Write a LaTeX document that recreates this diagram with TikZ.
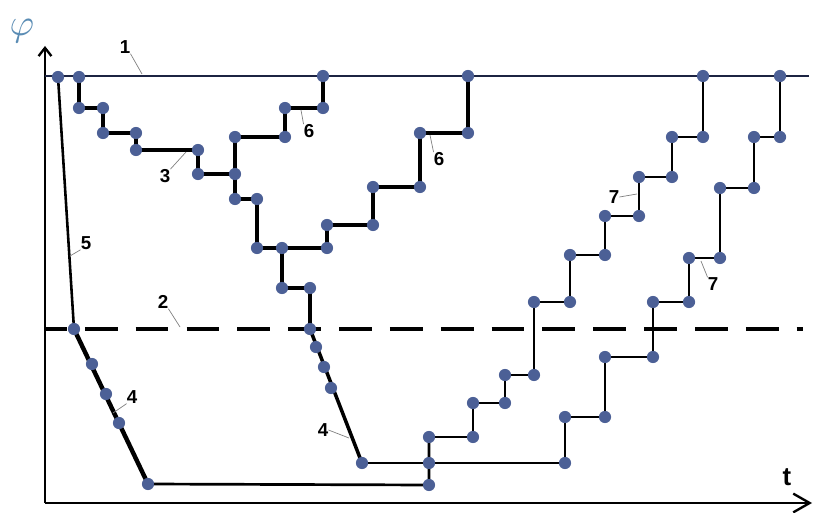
\documentclass[tikz,border=0pt]{standalone}
\usepackage{fontspec}
\setmainfont{Liberation Sans}
\usetikzlibrary{arrows.meta}

\definecolor{dotblue}{RGB}{76,96,150}
\definecolor{navy}{RGB}{28,36,66}
\definecolor{phiblue}{RGB}{90,140,180}

\tikzset{
  stairs/.style={line width=3.8pt},
  thinstairs/.style={line width=2.3pt},
  lbl/.style={font=\fontsize{16}{16}\selectfont\bfseries, inner sep=0pt},
  leader/.style={gray, line width=0.6pt},
}

\begin{document}
\begin{tikzpicture}[x=0.03cm,y=-0.03cm]
\useasboundingbox (0,0) rectangle (817,513);

% points of the curves
\foreach \n/\x/\y in {
  o/45/503, ytop/45/46, xend/812/503, h0/45/76, h1/809/76, d0/45/329, d1/803/329,
  t0/58/77, t1/79/77, t2/323/76, t3/468/76, t4/703/76, t5/780/76,
  c1/79/108, c2/103/108, c3/103/133, c4/136/133, c5/136/150, c6/198/150, c7/198/174,
  c8/235/174, c9/235/199, c10/257/199, c11/257/248, c12/282/248, c13/282/288,
  c14/310/288, c15/310/329,
  f1/323/108, f2/285/108, f3/285/137, f4/235/137,
  g1/468/133, g2/420/133, g3/420/187, g4/373/187, g5/373/225, g6/327/225, g7/327/248,
  a0/74/329, a1/92/364, a2/106/394, a3/119/423, a4/148/484,
  b1/316/347, b2/324/367, b3/331/388, b4/362/463,
  m0/429/485, m1/429/463, m2/429/437, m3/565/463,
  p1/473/437, p2/473/403, p3/505/403, p4/505/375, p5/534/375, p6/534/302,
  p7/570/302, p8/570/255, p9/605/255, p10/605/216, p11/639/216, p12/639/177,
  p13/672/177, p14/672/137, p15/703/137,
  q1/565/417, q2/605/417, q3/605/357, q4/653/357, q5/653/302, q6/689/302,
  q7/689/258, q8/720/258, q9/720/188, q10/754/188, q11/754/137, q12/780/137}
  \coordinate (\n) at (\x,\y);

% axes
\draw[line width=2pt, -{Straight Barb[length=7pt,width=11pt]}] (o) -- (ytop);
\draw[line width=2pt, -{Straight Barb[length=14pt,width=16pt]}] (o) -- (xend);
\node[text=phiblue] (phi) at (22,31) {\scalebox{3.2}{$\varphi$}};
\node[font=\fontsize{22}{22}\selectfont\bfseries] (tlab) at (787,477) {t};

% levels 1 and 2
\draw[navy, line width=2.3pt] (h0) -- (h1);
\draw[line width=3.8pt, dash pattern=on 28pt off 15.4pt, dash phase=9.4pt] (d0) -- (d1);

% fall lines
\draw[line width=2.2pt] (t0) -- (a0);
\draw[stairs] (a0) -- (a4);
\draw[thinstairs] (a4) -- (m0) -- (m2);
\draw[line width=3pt] (c15) -- (b4);
\draw[thinstairs] (b4) -- (m3);

% staircases
\draw[stairs] (t1) -- (c1) -- (c2) -- (c3) -- (c4) -- (c5) -- (c6) -- (c7) -- (c8)
  -- (c9) -- (c10) -- (c11) -- (c12) -- (c13) -- (c14) -- (c15);
\draw[stairs] (t2) -- (f1) -- (f2) -- (f3) -- (f4) -- (c8);
\draw[stairs] (t3) -- (g1) -- (g2) -- (g3) -- (g4) -- (g5) -- (g6) -- (g7) -- (c12);
\draw[thinstairs] (m2) -- (p1) -- (p2) -- (p3) -- (p4) -- (p5) -- (p6) -- (p7) -- (p8)
  -- (p9) -- (p10) -- (p11) -- (p12) -- (p13) -- (p14) -- (p15) -- (t4);
\draw[thinstairs] (m3) -- (q1) -- (q2) -- (q3) -- (q4) -- (q5) -- (q6) -- (q7) -- (q8)
  -- (q9) -- (q10) -- (q11) -- (q12) -- (t5);

% dots
\foreach \n in {t0,t1,t2,t3,t4,t5,c1,c2,c3,c4,c5,c6,c7,c8,c9,c10,c11,c12,c13,c14,c15,
  f1,f2,f3,f4,g1,g2,g3,g4,g5,g6,g7,a0,a1,a2,a3,a4,b1,b2,b3,b4,m0,m1,m2,m3,
  p1,p2,p3,p4,p5,p6,p7,p8,p9,p10,p11,p12,p13,p14,p15,
  q1,q2,q3,q4,q5,q6,q7,q8,q9,q10,q11,q12}
  \fill[dotblue] (\n) circle (5.2pt);

% labels
\node[lbl] (n1) at (125,47) {1};
\node[lbl] (n2) at (163,302) {2};
\node[lbl] (n3) at (165,176) {3};
\node[lbl] (n4a) at (132,397) {4};
\node[lbl] (n4b) at (323,430) {4};
\node[lbl] (n5) at (86,243) {5};
\node[lbl] (n6a) at (309,131) {6};
\node[lbl] (n6b) at (439,159) {6};
\node[lbl] (n7a) at (614,197) {7};
\node[lbl] (n7b) at (713,284) {7};

\coordinate (k1) at (142,74);
\coordinate (k2) at (180,327);
\coordinate (k3) at (186,152);
\coordinate (k4a) at (113,413);
\coordinate (k4b) at (349,438);
\coordinate (k5) at (70,256);
\coordinate (k6a) at (301,110);
\coordinate (k6b) at (430,135);
\coordinate (k7a) at (637,194);
\coordinate (k7b) at (701,261);

\draw[leader] (n1.south east) -- (k1);
\draw[leader] (n2.south east) -- (k2);
\draw[leader] (n3.north east) -- (k3);
\draw[leader] (n4a.south west) -- (k4a);
\draw[leader] (n4b.east) -- (k4b);
\draw[leader] (n5.south west) -- (k5);
\draw[leader] (n6a.north west) -- (k6a);
\draw[leader] (n6b.north west) -- (k6b);
\draw[leader] (n7a.east) -- (k7a);
\draw[leader] (n7b.north west) -- (k7b);
\end{tikzpicture}
\end{document}
